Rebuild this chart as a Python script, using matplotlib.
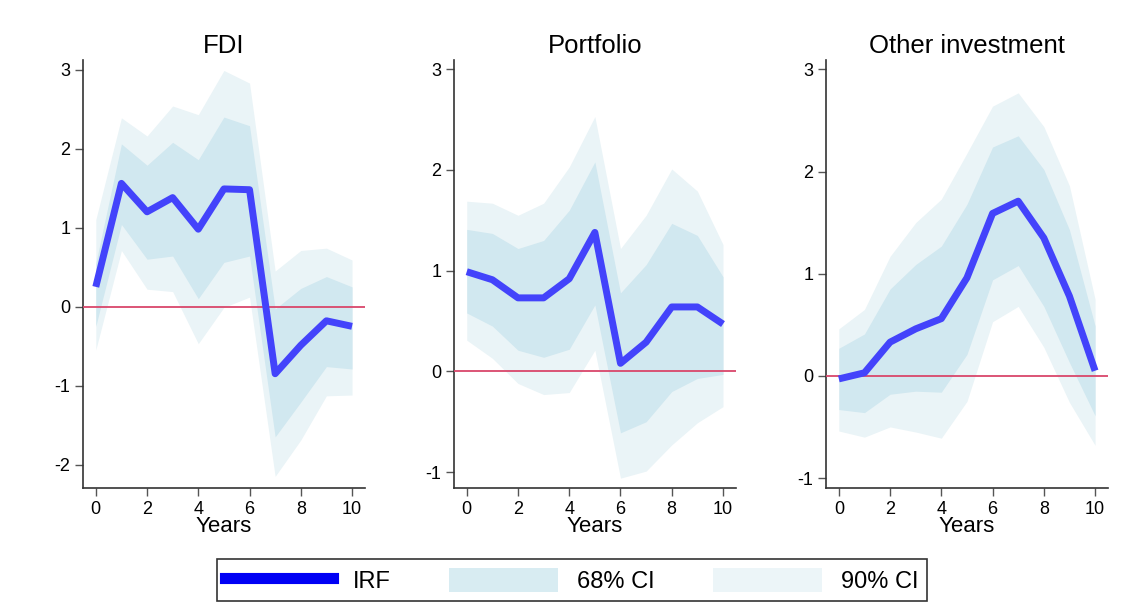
import numpy as np
import matplotlib.pyplot as plt
from matplotlib.patches import Patch
from matplotlib.lines import Line2D

plt.rcParams['font.family'] = ['Liberation Sans', 'DejaVu Sans']
plt.rcParams['axes.unicode_minus'] = False

years = list(range(11))

# FDI
fdi_irf = [0.25, 1.56, 1.20, 1.38, 0.98, 1.49, 1.48, -0.85, -0.49, -0.18, -0.25]
fdi_lo68 = [-0.25, 1.04, 0.60, 0.64, 0.10, 0.56, 0.64, -1.65, -1.21, -0.76, -0.79]
fdi_hi68 = [0.55, 2.06, 1.79, 2.08, 1.86, 2.40, 2.29, -0.03, 0.23, 0.38, 0.25]
fdi_lo90 = [-0.55, 0.71, 0.22, 0.19, -0.47, -0.01, 0.12, -2.15, -1.69, -1.13, -1.12]
fdi_hi90 = [1.10, 2.39, 2.16, 2.54, 2.43, 2.99, 2.83, 0.45, 0.71, 0.74, 0.59]

# Portfolio
port_irf = [0.99, 0.91, 0.73, 0.73, 0.92, 1.38, 0.08, 0.29, 0.64, 0.64, 0.47]
port_lo68 = [0.58, 0.45, 0.21, 0.14, 0.22, 0.66, -0.61, -0.50, -0.20, -0.07, -0.03]
port_hi68 = [1.41, 1.37, 1.22, 1.30, 1.60, 2.08, 0.78, 1.06, 1.47, 1.35, 0.94]
port_lo90 = [0.31, 0.13, -0.12, -0.23, -0.21, 0.21, -1.06, -0.99, -0.73, -0.51, -0.35]
port_hi90 = [1.69, 1.67, 1.55, 1.67, 2.03, 2.53, 1.22, 1.55, 2.01, 1.79, 1.26]

# Other investment
oth_irf = [-0.03, 0.03, 0.33, 0.46, 0.56, 0.96, 1.59, 1.71, 1.35, 0.78, 0.05]
oth_lo68 = [-0.33, -0.36, -0.18, -0.15, -0.16, 0.21, 0.94, 1.08, 0.68, 0.13, -0.39]
oth_hi68 = [0.27, 0.41, 0.85, 1.09, 1.27, 1.68, 2.24, 2.35, 2.02, 1.43, 0.49]
oth_lo90 = [-0.54, -0.60, -0.50, -0.55, -0.61, -0.25, 0.53, 0.68, 0.28, -0.26, -0.68]
oth_hi90 = [0.46, 0.65, 1.17, 1.50, 1.73, 2.18, 2.64, 2.77, 2.44, 1.86, 0.75]

titles = ['FDI', 'Portfolio', 'Other investment']
yticks = [[-2, -1, 0, 1, 2, 3], [-1, 0, 1, 2, 3], [-1, 0, 1, 2, 3]]
ylims = [(-2.3, 3.12), (-1.16, 3.09), (-1.1, 3.09)]

panels = [
    (fdi_irf, fdi_lo68, fdi_hi68, fdi_lo90, fdi_hi90),
    (port_irf, port_lo68, port_hi68, port_lo90, port_hi90),
    (oth_irf, oth_lo68, oth_hi68, oth_lo90, oth_hi90),
]

c_line = '#4343fb'
c68 = '#d1e8f0'
c90 = '#eaf4f7'
c_zero = '#d9476b'

fig = plt.figure(figsize=(11.32, 6.08), dpi=100)
lefts = [0.0733, 0.401, 0.7297]

for i, (irf, lo68, hi68, lo90, hi90) in enumerate(panels):
    ax = fig.add_axes([lefts[i], 0.197, 0.249, 0.704])
    ax.fill_between(years, lo90, hi90, color=c90, lw=0, zorder=1)
    ax.fill_between(years, lo68, hi68, color=c68, lw=0, zorder=2)
    ax.axhline(0, color=c_zero, lw=1.3, zorder=3)
    ax.plot(years, irf, color=c_line, lw=5, zorder=4, solid_capstyle='butt')
    ax.set_xlim(-0.5, 10.5)
    ax.set_ylim(*ylims[i])
    ax.set_xticks([0, 2, 4, 6, 8, 10])
    ax.set_yticks(yticks[i])
    ax.set_title(titles[i], fontsize=18.5, pad=5)
    ax.set_xlabel('Years', fontsize=16, labelpad=-1)
    for s in ['top', 'right']:
        ax.spines[s].set_visible(False)
    for s in ['left', 'bottom']:
        ax.spines[s].set_color('#333333')
        ax.spines[s].set_linewidth(1.2)
    ax.tick_params(axis='both', labelsize=13, length=6, width=1, color='#555555',
                   direction='out', pad=3)

handles = [
    Line2D([0], [0], color='#0000f5', lw=8),
    Patch(facecolor='#d8ecf2', edgecolor='none'),
    Patch(facecolor='#ecf5f8', edgecolor='none'),
]
leg = fig.legend(handles, ['IRF', '68% CI', '90% CI'], loc='lower center',
                 bbox_to_anchor=(0.505, 0.0), ncol=3, fontsize=17,
                 handlelength=4.6, handleheight=1.2, handletextpad=0.8,
                 columnspacing=2.5, fancybox=False, edgecolor='black',
                 borderpad=0.35, borderaxespad=0.3)
leg.get_frame().set_linewidth(1.2)

fig.savefig('out.png', dpi=100, facecolor='white')
